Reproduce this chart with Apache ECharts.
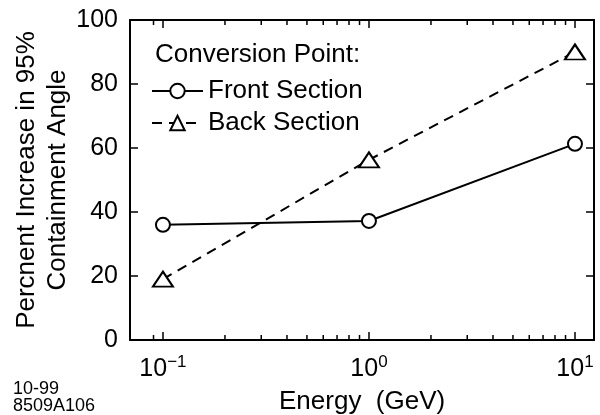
<!DOCTYPE html>
<html>
<head>
<meta charset="utf-8">
<script src="https://cdn.jsdelivr.net/npm/echarts@6/dist/echarts.min.js"></script>
<style>
  html, body { margin: 0; padding: 0; background: #fff; }
  #main { width: 600px; height: 415px; }
</style>
</head>
<body>
<div id="main"></div>
<script>
var energy = [0.1, 1, 10];
var frontSection = [36, 37.2, 61.3];
var backSection = [19, 56.3, 90];
var yTicks = [0, 20, 40, 60, 80, 100];
var minorTicks = [0.09, 0.2, 0.3, 0.4, 0.5, 0.6, 0.7, 0.8, 0.9, 2, 3, 4, 5, 6, 7, 8, 9];

var font = "Liberation Sans";

function pairs(xs, ys) {
  return xs.map(function (x, i) { return [x, ys[i]]; });
}

function isDecade(v) {
  var l = Math.log10(v);
  return Math.abs(l - Math.round(l)) < 1e-6;
}

var myChart = echarts.init(document.getElementById("main"));

var option = {
  animation: false,
  backgroundColor: "#fff",
  textStyle: { fontFamily: font, color: "#000" },
  grid: { left: 130, right: 6, top: 20, bottom: 75 },
  legend: {
    data: ["Front Section", "Back Section"],
    orient: "vertical",
    left: 146,
    top: 73,
    itemWidth: 51,
    itemHeight: 18,
    itemGap: 6,
    textStyle: { fontFamily: font, fontSize: 26, color: "#000" },
  },
  graphic: [
    {
      type: "text",
      left: 155,
      top: 42,
      style: { text: "Conversion Point:", fontFamily: font, fontSize: 26, fill: "#000" },
    },
    {
      type: "text",
      x: 42,
      y: 180,
      rotation: Math.PI / 2,
      style: {
        text: "Percnent Increase in 95%\nContainment Angle",
        fontFamily: font,
        fontSize: 26,
        lineHeight: 31,
        fill: "#000",
        align: "center",
        verticalAlign: "middle",
      },
    },
    {
      type: "text",
      left: 279,
      top: 389,
      style: { text: "Energy  (GeV)", fontFamily: font, fontSize: 26, fill: "#000" },
    },
    {
      type: "text",
      left: 13,
      top: 380,
      style: { text: "10-99\n8509A106", fontFamily: font, fontSize: 18, lineHeight: 17, fill: "#000" },
    },
  ],
  xAxis: [
    {
      type: "log",
      logBase: 10,
      min: 0.0692,
      max: 12.37,
      position: "bottom",
      axisLine: { onZero: false, lineStyle: { color: "#000", width: 2 } },
      axisTick: { inside: true, length: 8, lineStyle: { color: "#000", width: 1.5 } },
      splitLine: { show: false },
      axisLabel: {
        margin: 14,
        color: "#000",
        formatter: function (v) {
          if (!isDecade(v)) return "";
          var e = Math.round(Math.log10(v));
          return "{b|10}{s|" + (e < 0 ? "\u2212" + -e : e) + "}";
        },
        rich: {
          b: { fontFamily: font, fontSize: 25, lineHeight: 30, color: "#000" },
          s: { fontFamily: font, fontSize: 17, lineHeight: 17, verticalAlign: "top", color: "#000" },
        },
      },
    },
    {
      type: "log",
      logBase: 10,
      min: 0.0692,
      max: 12.37,
      position: "top",
      axisLine: { onZero: false, lineStyle: { color: "#000", width: 2 } },
      axisTick: { inside: true, length: 8, lineStyle: { color: "#000", width: 1.5 } },
      splitLine: { show: false },
      axisLabel: { show: false },
    },
  ],
  yAxis: [
    {
      type: "value",
      min: yTicks[0],
      max: yTicks[yTicks.length - 1],
      interval: 20,
      position: "left",
      axisLine: { show: true, onZero: false, lineStyle: { color: "#000", width: 2 } },
      axisTick: { show: true, inside: true, length: 8, lineStyle: { color: "#000", width: 1.5 } },
      splitLine: { show: false },
      axisLabel: { margin: 12, color: "#000", fontFamily: font, fontSize: 25 },
    },
    {
      type: "value",
      min: yTicks[0],
      max: yTicks[yTicks.length - 1],
      interval: 20,
      position: "right",
      axisLine: { show: true, onZero: false, lineStyle: { color: "#000", width: 2 } },
      axisTick: { show: true, inside: true, length: 8, lineStyle: { color: "#000", width: 1.5 } },
      splitLine: { show: false },
      axisLabel: { show: false },
    },
  ],
  series: [
    {
      // minor ticks of the log axis, top and bottom, drawn inward
      type: "custom",
      name: "minor",
      xAxisIndex: 0,
      yAxisIndex: 0,
      silent: true,
      clip: false,
      z: 10,
      data: minorTicks.map(function (v) { return [v, 50]; }),
      renderItem: function (params, api) {
        var b = api.coord([api.value(0), 0]);
        var t = api.coord([api.value(0), 100]);
        return {
          type: "group",
          children: [
            {
              type: "line",
              shape: { x1: b[0], y1: b[1], x2: b[0], y2: b[1] - 5 },
              style: { stroke: "#000", lineWidth: 1.5 },
            },
            {
              type: "line",
              shape: { x1: t[0], y1: t[1], x2: t[0], y2: t[1] + 5 },
              style: { stroke: "#000", lineWidth: 1.5 },
            },
          ],
        };
      },
    },
    {
      type: "line",
      name: "Back Section",
      data: pairs(energy, backSection),
      symbol: "triangle",
      symbolSize: [20, 15],
      lineStyle: { color: "#000", width: 2, type: [10, 7] },
      itemStyle: { color: "#fff", borderColor: "#000", borderWidth: 2 },
      z: 3,
    },
    {
      type: "line",
      name: "Front Section",
      data: pairs(energy, frontSection),
      symbol: "circle",
      symbolSize: 14,
      lineStyle: { color: "#000", width: 2 },
      itemStyle: { color: "#fff", borderColor: "#000", borderWidth: 2 },
      z: 4,
    },
  ],
};

myChart.setOption(option);
</script>
</body>
</html>
